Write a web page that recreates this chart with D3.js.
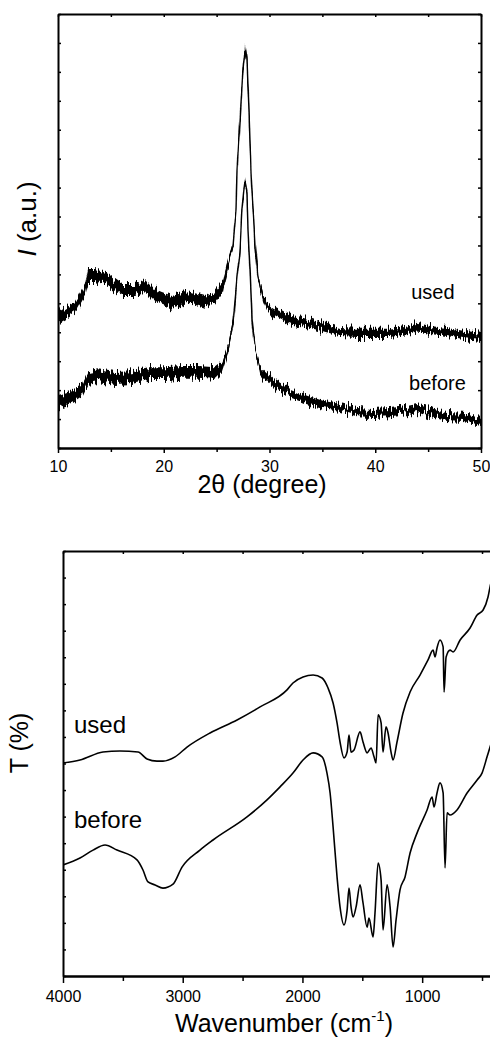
<!DOCTYPE html>
<meta charset="utf-8">
<html>
<head>
  <title>XRD and FTIR before / used</title>
  <script src="https://d3js.org/d3.v7.min.js"></script>
  <style>
    body { margin: 0; background-color: white; }
    text { font-family: "Liberation Sans", Arial, sans-serif; fill: black; }
  </style>
</head>
<body>
<div id="my_dataviz"></div>
<script>

// ---- XRD data (2theta in degree, intensity a.u., width of noise band a.u.)
var usedAngle = [10.0, 11.6, 12.55, 12.84, 13.5, 14.73, 16.05, 17.28, 18.23, 19.17, 20.78, 22.29, 23.9, 24.85, 25.6, 26.08, 26.55, 26.83, 26.93, 27.21, 27.49, 27.68, 27.87, 28.06, 28.25, 28.44, 28.63, 28.91, 29.39, 29.77, 30.33, 31.94, 33.55, 35.06, 36.67, 38.27, 39.79, 41.39, 43.0, 43.95, 45.18, 46.78, 48.3, 50.0];
var usedI = [4.49, 4.84, 5.46, 5.98, 5.98, 5.81, 5.46, 5.46, 5.63, 5.29, 5.05, 5.22, 5.05, 5.22, 5.57, 6.39, 7.02, 8.23, 9.61, 11.34, 13.07, 13.86, 13.41, 11.68, 9.61, 8.23, 7.02, 5.98, 5.18, 4.87, 4.74, 4.42, 4.32, 4.18, 4.01, 3.98, 3.98, 3.98, 4.08, 4.18, 4.08, 4.01, 3.91, 3.84];
var usedNoise = [0.4, 0.4, 0.4, 0.42, 0.42, 0.42, 0.42, 0.42, 0.42, 0.4, 0.4, 0.4, 0.4, 0.4, 0.38, 0.3, 0.2, 0.1, 0.08, 0.08, 0.14, 0.32, 0.14, 0.08, 0.08, 0.08, 0.1, 0.2, 0.28, 0.3, 0.3, 0.3, 0.3, 0.29, 0.28, 0.28, 0.28, 0.28, 0.3, 0.3, 0.28, 0.28, 0.28, 0.28];

var beforeAngle = [10.0, 11.32, 12.27, 12.84, 13.78, 15.39, 17.0, 18.51, 20.12, 21.73, 23.24, 24.85, 25.51, 26.08, 26.55, 26.93, 27.21, 27.4, 27.59, 27.68, 27.87, 27.97, 28.16, 28.35, 28.63, 29.1, 30.33, 31.94, 33.55, 35.06, 36.67, 38.27, 39.79, 41.39, 43.0, 43.95, 45.18, 46.78, 48.3, 50.0];
var beforeI = [1.59, 1.76, 2.00, 2.45, 2.52, 2.42, 2.45, 2.59, 2.59, 2.63, 2.63, 2.59, 2.80, 3.39, 4.32, 5.81, 6.84, 8.23, 8.92, 9.16, 8.75, 7.54, 6.15, 4.42, 3.49, 2.70, 2.25, 1.90, 1.66, 1.49, 1.38, 1.24, 1.21, 1.24, 1.31, 1.38, 1.21, 1.07, 1.04, 0.90];
var beforeNoise = [0.4, 0.4, 0.4, 0.41, 0.41, 0.41, 0.41, 0.41, 0.41, 0.41, 0.41, 0.4, 0.36, 0.28, 0.2, 0.1, 0.08, 0.1, 0.16, 0.3, 0.14, 0.08, 0.08, 0.1, 0.2, 0.28, 0.3, 0.3, 0.29, 0.28, 0.28, 0.28, 0.28, 0.28, 0.28, 0.28, 0.28, 0.28, 0.28, 0.28];

var xrdTicks = [10, 20, 30, 40, 50];
var xrdMinor = [15, 25, 35, 45];

// ---- FTIR data (wavenumber cm-1, transmittance a.u.)
var ftirUsedWn = [4000, 3858, 3666, 3524, 3373, 3298, 3215, 3165, 3064, 2964, 2772, 2546, 2354, 2129, 2079, 1995, 1911, 1836, 1786, 1744, 1711, 1686, 1653, 1627, 1611, 1594, 1569, 1519, 1494, 1460, 1427, 1402, 1385, 1368, 1343, 1327, 1302, 1285, 1260, 1243, 1210, 1160, 1101, 1018, 951, 909, 892, 876, 851, 825, 817, 800, 767, 742, 683, 600, 541, 491, 450, 433, 400];
var ftirUsedT = [8.02, 8.13, 8.43, 8.47, 8.43, 8.17, 8.09, 8.09, 8.25, 8.62, 9.15, 9.64, 10.13, 10.77, 11.03, 11.26, 11.33, 11.22, 10.84, 10.28, 9.53, 8.81, 8.21, 8.43, 9.07, 8.43, 8.51, 9.19, 8.81, 8.40, 8.58, 8.25, 8.02, 9.83, 9.53, 8.43, 9.38, 9.15, 8.43, 8.13, 8.81, 9.90, 10.69, 11.33, 11.90, 12.27, 12.01, 12.35, 12.65, 12.39, 10.69, 12.01, 12.27, 12.20, 12.65, 13.10, 13.59, 13.78, 14.27, 14.65, 15.2];

var ftirBeforeWn = [4000, 3858, 3749, 3649, 3549, 3382, 3332, 3290, 3231, 3165, 3081, 3006, 2856, 2747, 2463, 2296, 2187, 2079, 1995, 1911, 1836, 1795, 1769, 1744, 1711, 1686, 1653, 1627, 1611, 1594, 1577, 1552, 1519, 1494, 1460, 1444, 1410, 1394, 1368, 1343, 1327, 1293, 1268, 1243, 1218, 1185, 1143, 1101, 1043, 959, 917, 901, 876, 851, 825, 809, 792, 767, 709, 625, 541, 500, 458, 433, 400];
var ftirBeforeT = [4.18, 4.44, 4.74, 4.93, 4.74, 4.37, 3.99, 3.54, 3.43, 3.31, 3.46, 4.10, 4.74, 5.12, 5.99, 6.63, 7.12, 7.64, 8.13, 8.40, 8.25, 7.64, 6.89, 5.61, 3.73, 2.60, 1.92, 2.48, 3.31, 2.60, 2.22, 2.60, 3.43, 2.75, 1.84, 2.18, 1.47, 2.37, 4.25, 3.61, 1.73, 3.43, 2.60, 1.09, 2.11, 3.24, 3.73, 4.63, 5.38, 6.25, 6.74, 6.36, 6.89, 7.27, 6.89, 4.07, 6.14, 6.06, 6.25, 6.89, 7.38, 7.64, 8.25, 8.62, 9.1];

var ftirTicks = [4000, 3000, 2000, 1000];
var ftirMinor = [3500, 2500, 1500, 500];

var width = 490, height = 1043;

var svg = d3.select("#my_dataviz")
  .append("svg")
    .attr("width", width)
    .attr("height", height);

// texture filter: jitters each pixel column up/down so the XRD band looks like detector noise
var defs = svg.append("defs");
var rough = defs.append("filter").attr("id", "rough")
  .attr("x", "-2%").attr("y", "-10%").attr("width", "104%").attr("height", "120%");
rough.append("feTurbulence")
  .attr("type", "fractalNoise")
  .attr("baseFrequency", "0.6 0.03")
  .attr("numOctaves", 2)
  .attr("seed", 3)
  .attr("result", "noise");
rough.append("feColorMatrix")
  .attr("in", "noise")
  .attr("type", "matrix")
  .attr("values", "0 0 0 0 0.5  0 1 0 0 0  0 0 0 0 0  0 0 0 0 1")
  .attr("result", "noiseY");
rough.append("feDisplacementMap")
  .attr("in", "SourceGraphic")
  .attr("in2", "noiseY")
  .attr("scale", 17)
  .attr("xChannelSelector", "R")
  .attr("yChannelSelector", "G");

// helper: draws a framed box with ticks like the Origin plots
function frame(x, y, major, minor, yTicks, majorLen, minorLen, pad) {
  var y0 = y.range()[0], y1 = y.range()[1];
  var x0 = x.range()[0], x1 = x.range()[1];

  var bottom = svg.append("g").attr("transform", "translate(0," + y0 + ")");
  bottom.call(d3.axisBottom(x).tickValues(major).tickSize(majorLen).tickSizeOuter(0)
    .tickPadding(pad).tickFormat(d3.format("d")));
  bottom.append("g").call(d3.axisBottom(x).tickValues(minor).tickSize(minorLen).tickSizeOuter(0).tickFormat(""));
  bottom.selectAll("text").attr("font-size", 16).attr("font-family", "Liberation Sans, Arial, sans-serif");

  svg.append("g").attr("transform", "translate(0," + y1 + ")")
    .call(d3.axisTop(x).tickValues(major.concat(minor)).tickSize(-3).tickSizeOuter(0).tickFormat(""));
  svg.append("g").attr("transform", "translate(" + x0 + ",0)")
    .call(d3.axisLeft(y).tickValues(yTicks).tickSize(-3).tickSizeOuter(0).tickFormat(""));
  svg.append("g").attr("transform", "translate(" + x1 + ",0)")
    .call(d3.axisRight(y).tickValues(yTicks).tickSize(-3).tickSizeOuter(0).tickFormat(""));

  svg.selectAll(".domain").attr("stroke-width", 2);
  svg.selectAll(".tick line").attr("stroke-width", 1.5);
}

// ================= XRD =================
var xX = d3.scaleLinear().domain([10, 50]).range([58, 481]);
var yX = d3.scaleLinear().domain([0, 15]).range([448, 14]);

svg.append("clipPath").attr("id", "clipX")
  .append("rect").attr("x", 58).attr("y", 14).attr("width", 423).attr("height", 434);

function xrdSeries(ang, val, noise) {
  var pts = ang.map(function(a, i) { return {a: a, v: val[i], n: noise[i]}; });
  var g = svg.append("g").attr("clip-path", "url(#clipX)")
    .append("g").attr("filter", "url(#rough)");
  g.append("path").datum(pts)
    .attr("d", d3.area()
      .x(function(d) { return xX(d.a); })
      .y0(function(d) { return yX(d.v - d.n / 2); })
      .y1(function(d) { return yX(d.v + d.n / 2); }))
    .attr("fill", "black");
  g.append("path").datum(pts)
    .attr("d", d3.line()
      .x(function(d) { return xX(d.a); })
      .y(function(d) { return yX(d.v); }))
    .attr("fill", "none")
    .attr("stroke", "black")
    .attr("stroke-width", 1.5);
}
xrdSeries(usedAngle, usedI, usedNoise);
xrdSeries(beforeAngle, beforeI, beforeNoise);

frame(xX, yX, xrdTicks, xrdMinor, d3.range(0, 16), 5, 4, 8);

svg.append("text").attr("x", xX(43.4)).attr("y", yX(5.15)).attr("font-size", 20).text("used");
svg.append("text").attr("x", xX(43.2)).attr("y", yX(2.0)).attr("font-size", 20).text("before");

svg.append("text")
  .attr("x", 262).attr("y", 493)
  .attr("text-anchor", "middle")
  .attr("font-size", 25)
  .text("2\u03b8 (degree)");

var yl = svg.append("text")
  .attr("transform", "translate(36," + 219 + ")rotate(-90)")
  .attr("text-anchor", "middle")
  .attr("font-size", 26);
yl.append("tspan").attr("font-style", "italic").text("I");
yl.append("tspan").text(" (a.u.)");

// ================= FTIR =================
var xF = d3.scaleLinear().domain([4000, 400]).range([63, 494]);
var yF = d3.scaleLinear().domain([0, 16]).range([976, 551]);

svg.append("clipPath").attr("id", "clipF")
  .append("rect").attr("x", 63).attr("y", 551).attr("width", 431).attr("height", 425);

var ftirLine = d3.line()
  .curve(d3.curveMonotoneX)
  .x(function(d) { return xF(d.w); })
  .y(function(d) { return yF(d.t); });

[[ftirUsedWn, ftirUsedT], [ftirBeforeWn, ftirBeforeT]].forEach(function(s) {
  var pts = s[0].map(function(w, i) { return {w: w, t: s[1][i]}; });
  svg.append("path")
    .datum(pts)
    .attr("clip-path", "url(#clipF)")
    .attr("d", ftirLine)
    .attr("fill", "none")
    .attr("stroke", "black")
    .attr("stroke-width", 1.6);
});

frame(xF, yF, ftirTicks, ftirMinor, d3.range(0, 17), 7, 5, 8);

svg.append("text").attr("x", xF(3908)).attr("y", yF(9.15)).attr("font-size", 24).text("used");
svg.append("text").attr("x", xF(3908)).attr("y", yF(5.57)).attr("font-size", 24).text("before");

var xl = svg.append("text")
  .attr("x", 284).attr("y", 1032)
  .attr("text-anchor", "middle")
  .attr("font-size", 25);
xl.append("tspan").text("Wavenumber (cm");
xl.append("tspan").attr("font-size", 15).attr("dy", -11).text("-1");
xl.append("tspan").attr("dy", 11).text(")");

svg.append("text")
  .attr("transform", "translate(28," + 743 + ")rotate(-90)")
  .attr("text-anchor", "middle")
  .attr("font-size", 25)
  .text("T (%)");

</script>
</body>
</html>
